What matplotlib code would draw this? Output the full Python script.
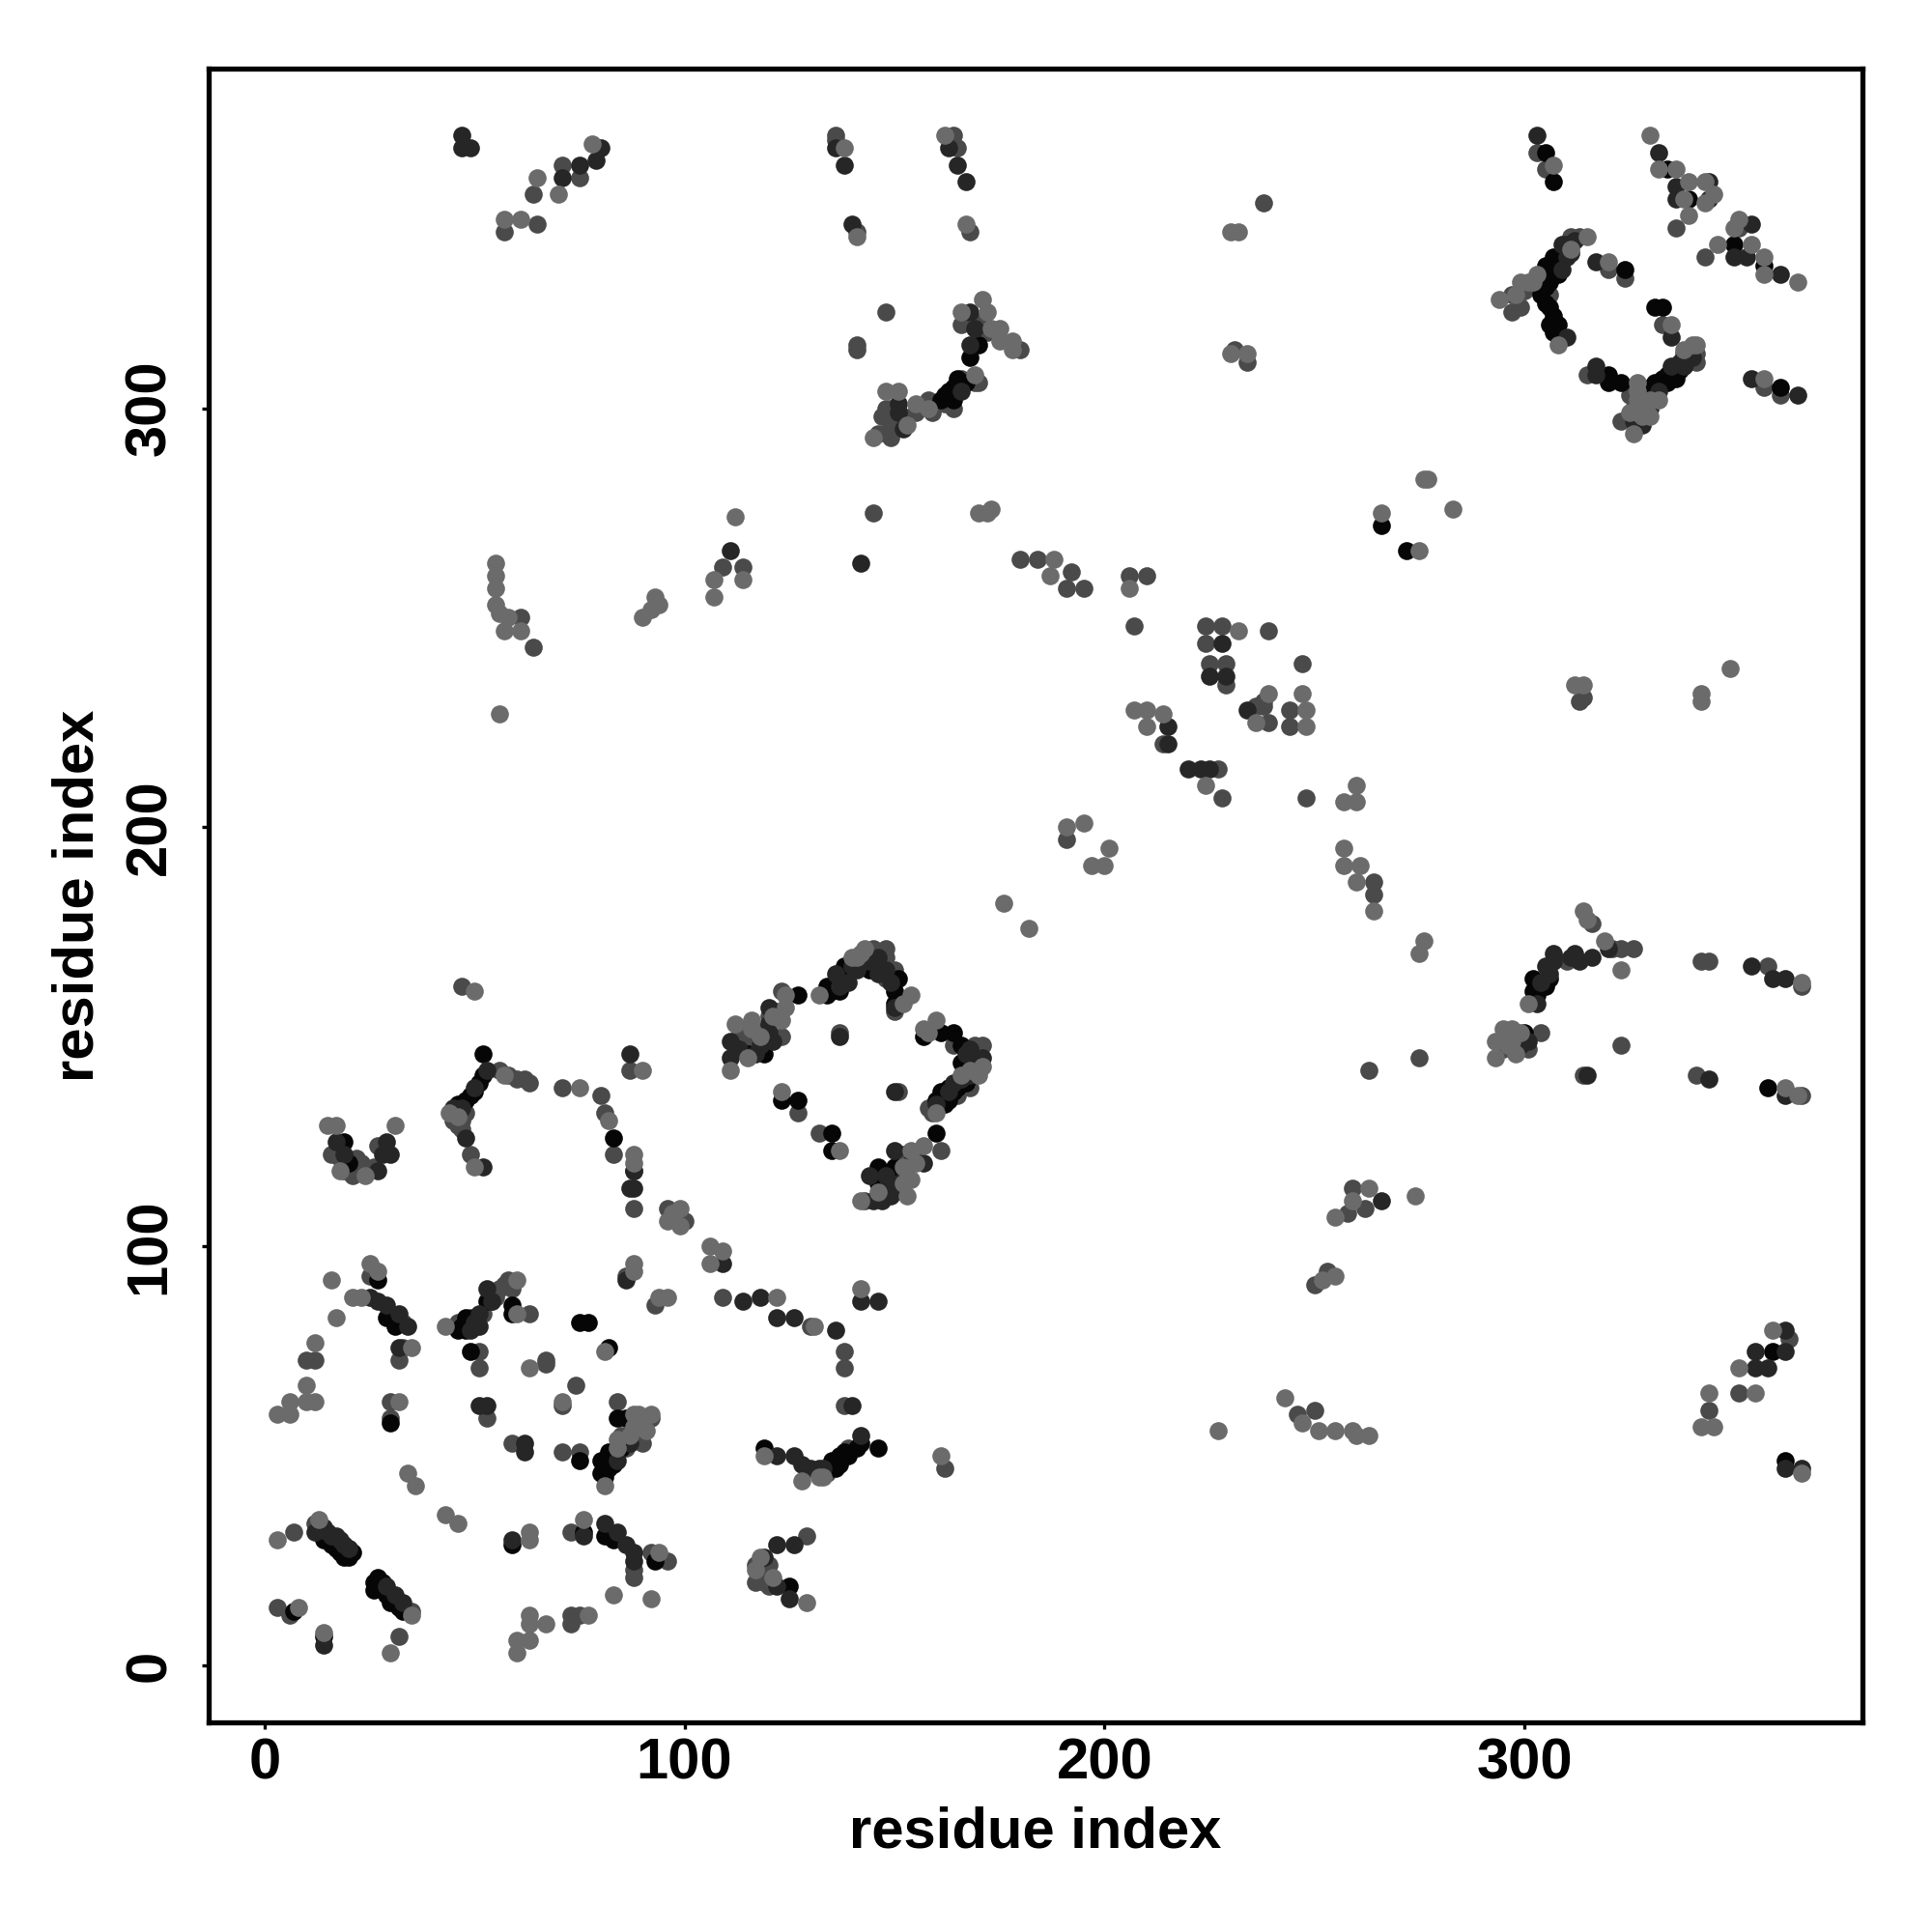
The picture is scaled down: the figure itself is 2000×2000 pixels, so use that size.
import numpy as np
import matplotlib
matplotlib.use("Agg")
import matplotlib.pyplot as plt

## ------------------
## Contact pairs, one list per grey level
## ------------------
pairs_mid = [(7,32),(12,34),(3,14),(6,12),(32,7),(73,32),(73,12),(73,10),(75,12),(88,23),(88,21),(92,27),(96,25),(35,13),
    (12,73),(10,73),(25,93),(32,73),(33,76),(52,84),(56,90),(58,92),(59,90),(63,84),(33,82),(51,75),(51,71),(67,73),(67,72),(74,67),(71,62),(53,59),(30,63),(30,59),(59,53),(71,51),(75,51),(84,63),(90,57),(92,59),(90,53),
    (88,109),(96,109),(100,106),(86,93),(93,86),(109,88),
    (22,121),(21,117),(47,130),(56,142),(62,140),(49,122),(71,138),(80,136),(81,132),(83,122),(87,142),(88,118),(47,162),
    (123,161),(123,150),(116,149),(145,171),(148,171),(148,169),(148,164),(137,151),(151,137),(164,148),(169,148),(171,148),(169,145),(127,132),(132,127),(161,123),(149,116),
    (130,81),(138,75),(138,71),(134,46),(139,52),(138,62),(129,31),(162,47),(117,20),
    (246,60),(250,61),(250,91),(253,94),(258,108),(259,114),(262,109),(263,142),(275,145),
    (344,61),(351,65),(363,78),
    (301,147),(304,151),(310,168),(316,177),(321,171),(323,171),(326,171),(323,148),(314,141),(342,168),(344,168),(358,167),(366,162),(341,141),(366,136),
    (303,361),(305,357),(336,343),(343,336),(351,343),(297,323),(297,327),(306,327),(311,341),(313,341),(320,333),(324,331),(333,320),(315,308),(323,297),(329,302),(339,311),(341,313),(341,311),(357,305),(361,303),
    (148,323),(141,315),(141,314),(169,306),(164,300),(158,302),(155,299),(148,300),(149,296),(149,293),(180,314),
    (57,342),(65,344),(64,351),(75,355),(71,358),(136,365),(136,364),(141,342),(164,365),(165,362),(168,342),(238,349),(231,314),(234,311),(145,275),
    (180,264),(184,264),(192,261),(191,257),(195,257),(206,260),(210,260),(207,248),(64,243),(61,250),(109,262),(114,262),
    (224,248),(228,248),(224,244),(239,247),(225,239),(229,239),(229,234),(247,239),(238,230),(236,229),(238,229),(239,225),(244,228),(244,224),(214,220),(227,214),(228,207),(248,207),(264,187),(264,184),(191,197),(313,230),(314,231),
    (298,148),(296,150),(295,147),(299,324),(300,328),(303,329),(325,303),(327,300),(326,300),(329,298),(331,302),(338,313),(340,314),(340,312),
    (113,150),(114,152),(113,147),(118,152),(120,155),(122,156),(140,166),(142,168),(146,170),(147,170),(150,166),(169,144),(170,146),(168,138),(165,136),
    (158,133),(159,132),(155,122),(152,122),(147,113),(143,111),(150,113),(88,56),(86,52),(88,54),(85,55),(86,54),(54,87),(55,88),(57,91),(49,83),(46,82),
    (48,132),(46,129),(45,130),(47,128),(58,141),(60,140),(63,139),(16,122),(18,121),(19,118),(23,120),(26,119),(27,124),(150,156),(151,159),
    (149,300),(147,298),(150,297),(152,298),(146,294),(159,299),(162,301),(170,306),(166,307),(166,320),(171,321),(172,318),(117,24),(118,23),(120,24),(120,19),(119,20)]

pairs_black = [(14,30),(18,27),(21,27),(19,26),(27,21),(26,18),(30,15),(33,13),(7,13),(14,7),(59,29),(76,32),(81,31),(83,30),(93,25),
    (27,92),(29,83),(31,81),(46,80),(48,80),(48,83),(53,87),(59,86),(59,84),(49,75),(75,82),(77,82),(82,76),(30,58),(75,49),(84,59),(86,59),(82,51),(80,49),(80,46),(83,48),(81,45),
    (19,125),(20,120),(49,136),(48,135),(46,134),(52,141),(52,146),(83,126),
    (127,160),(119,150),(115,146),(119,146),(134,160),(137,161),(134,162),(138,167),(144,166),(151,164),(150,161),(150,158),(157,150),(161,151),(164,151),(166,148),(166,144),(167,139),(165,138),(161,137),(160,135),(162,134),(123,135),(127,135),(135,127),(135,123),(160,127),(154,120),(150,119),(146,119),(146,115),
    (119,52),(135,49),(137,50),(146,52),(142,53),(125,19),
    (359,75),(362,49),(358,138),(300,151),(302,161),(302,164),
    (305,361),(307,354),(334,357),(339,350),(350,339),(357,334),(304,331),(304,327),(306,324),(306,320),(308,320),(308,317),(307,336),(306,332),(308,334),(324,333),(331,324),(333,324),(320,308),(320,306),(323,306),(330,305),(333,307),(334,306),(336,307),(361,305),
    (170,315),(168,312),(165,307),(163,304),(164,302),(161,302),
    (266,272),(272,266),
    (15,31),(16,29),(17,28),(20,28),(19,27),(20,26),(28,20),(27,19),(26,20),(28,18),(29,17),(31,15),(32,14),(47,134),(50,137),(51,139),(47,81),(49,82),(50,83),
    (135,161),(136,163),(137,164),(139,166),(141,168),(143,168),(145,167),(146,167),(168,143),(167,142),(163,138),(162,136),(164,137),(163,135),
    (305,334),(305,329),(306,330),(308,332),(309,335),(307,333),(309,337),(332,305),(331,306),(334,308),(335,308),(337,309),(336,309),(338,310),(329,303),(331,303),(307,322),(305,325),(307,318),
    (303,163),(303,160),(305,162),(306,164),(82,47),(81,47),(83,50),(84,51),(85,52),(136,47),(137,48),(138,51),(139,50),(141,52),(165,305),(166,305),(167,306),(164,305),(162,303)]

pairs_dark = [(12,32),(14,33),(16,31),(17,31),(19,29),(29,19),(31,17),(33,15),(14,5),(59,30),(76,31),(81,34),(84,32),(86,29),(88,27),(88,25),
    (25,88),(27,87),(29,86),(32,84),(34,81),(32,76),(51,81),(51,84),(53,90),(51,62),(53,62),(62,53),(62,51),(87,53),(84,49),
    (88,118),(87,114),(109,96),(86,92),(114,87),(118,88),(52,119),
    (17,125),(19,122),(27,118),(28,122),(30,122),(29,125),(50,138),(53,142),(48,126),(87,146),(88,114),
    (120,157),(120,153),(111,149),(111,145),(136,165),(144,168),(148,166),(150,157),(171,145),(168,141),(160,134),(157,120),(150,123),(149,112),(145,111),(147,111),(137,150),(150,137),
    (122,83),(126,83),(136,80),(142,87),(146,87),(122,50),(126,50),(130,47),(142,55),(140,62),(119,26),(122,29),(126,29),(122,19),(125,16),
    (266,111),
    (355,71),(355,75),(358,71),(362,75),(362,80),(362,47),(366,47),
    (297,148),(304,163),(306,165),(307,168),(316,169),(313,168),(320,171),(315,141),(344,140),(354,167),(359,164),(362,164),(362,136),
    (303,365),(332,361),(336,353),(336,350),(344,354),(344,350),(354,344),(350,336),(353,336),(361,332),(310,317),(310,336),(310,339),(317,335),(335,317),(317,310),(317,308),(326,297),(332,304),(335,310),(337,311),(354,307),(365,303),
    (168,323),(169,319),(168,315),(166,304),(151,301),(151,299),(152,295),
    (136,362),(138,358),(140,344),(163,362),(165,358),(167,354),(47,365),(47,362),(49,362),(71,355),(75,358),(79,359),(80,362),
    (142,263),(111,266),(228,244),(225,236),(229,236),(234,228),(215,224),(215,220),(220,214),(223,214),(225,214),
    (15,32),(18,30),(20,28),(45,133),(47,133),(54,87),(50,82),(49,80),(121,149),(120,151),(118,148),(137,162),(139,163),(140,167),(141,166),(146,165),(146,169),(149,163),
    (168,147),(167,146),(170,143),(169,142),(166,140),(164,139),(163,137),(117,146),(113,147),(144,117),(147,113),(148,117),(151,115),(148,113),
    (301,149),(299,148),(298,150),(303,158),(305,167),(307,170),(311,169),(312,170),(309,333),(312,340),(311,337),(309,339),(330,300),(329,299),(328,296),(338,310),(340,312),(128,48),(132,47),(133,47)]

pairs_light = [(13,35),(8,14),(14,8),(30,3),(34,46),(36,43),(43,36),(46,34),(63,32),(63,30),(63,12),(67,10),(63,10),(63,6),(60,6),(60,3),(76,35),(77,12),(83,17),(92,16),(94,27),(35,12),(3,30),
    (16,92),(17,83),(12,77),(3,60),(6,60),(6,63),(10,67),(10,63),(12,63),(25,96),(27,94),(21,88),(23,88),(35,76),(43,81),(60,92),(60,84),(63,71),(71,63),(32,63),(92,60),(90,59),(87,55),(84,52),(81,43),(81,75),
    (97,108),(96,106),(99,109),(99,105),(106,100),(109,99),(106,96),(88,120),(88,96),(88,94),(94,88),(96,88),
    (15,129),(17,129),(24,117),(31,129),(18,118),(44,132),(46,131),(50,119),(57,141),(50,161),(75,138),(82,130),(90,142),(88,122),
    (124,160),(124,157),(123,154),(116,154),(112,153),(111,142),(115,145),(132,160),(140,169),(142,170),(152,158),(154,160),(157,152),(160,154),(170,141),(160,132),(123,137),(137,123),(157,124),(154,123),(154,116),(153,112),(142,111),(182,176),
    (122,88),(131,81),(142,90),(119,50),(132,45),(161,50),(118,26),(117,23),(121,21),(129,15),
    (227,56),(243,64),(247,58),(251,56),(255,56),(259,56),(260,55),(263,55),(252,92),(255,93),(255,107),(263,114),(259,111),(274,112),(275,170),(276,173),
    (342,57),(345,57),(344,65),(351,71),(355,65),(359,80),(366,46),
    (293,145),(293,149),(295,152),(297,152),(301,158),(314,180),(315,178),(319,173),(323,166),(366,163),(362,138),(365,136),
    (307,358),(330,365),(332,357),(336,357),(339,354),(338,350),(339,346),(343,349),(345,351),(343,354),(346,339),(350,343),(351,345),(354,339),(357,336),(357,332),(365,330),(294,326),(298,327),(301,330),(302,330),(308,315),(311,338),(315,341),(320,335),(335,320),(327,306),(327,304),(326,294),(328,300),(328,298),(341,315),(357,307),
    (166,323),(171,326),(172,323),(173,319),(175,319),(175,316),(178,316),(178,314),(169,308),(158,300),(155,301),(151,304),(148,304),(153,296),(145,293),
    (57,345),(61,345),(65,355),(70,351),(78,363),(138,362),(141,341),(162,365),(167,344),(230,342),(232,342),(230,313),(234,313),(112,274),(170,275),(172,275),(173,276),(188,264),(187,260),(206,257),
    (56,227),(55,263),(55,260),(56,251),(57,247),(61,247),(90,250),(92,252),(93,255),(94,253),(107,255),(107,259),(114,259),(266,275),(275,266),(276,283),(277,283),(283,276),
    (232,247),(247,232),(239,232),(236,225),(248,228),(248,224),(207,228),(210,228),(210,224),(214,227),(224,210),(260,210),(257,206),(260,206),(257,195),(257,191),(261,191),(260,187),(264,180),(191,200),(195,201),(197,191),(200,191),(201,195),(176,182),(312,234),(314,234),(342,232),(342,230),(349,238),
    (297,149),(299,151),(296,148),(298,146),(299,330),(303,332),(327,302),(325,299),(328,302),(329,300),(330,298),(327,299),(330,302),(332,302),(338,314),(340,315),
    (128,44),(133,45),(116,152),(118,150),(121,155),(141,169),(143,171),(158,151),(146,113),(152,115),(152,119),(155,120),(168,142),(171,143),(166,141),
    (55,257),(55,253),(58,250),(88,57),(89,60),(91,56),(88,60),(84,54)]

tick_values = [0, 100, 200, 300]

plt.rcParams['font.family'] = ['Liberation Sans', 'DejaVu Sans']
plt.rcParams['font.weight'] = 'bold'

fig = plt.figure(figsize=(10, 10), dpi=200)
ax = fig.add_axes([216/2000, 1 - 1783/2000, (1928-216)/2000, (1783-71)/2000])

## drawn in this order so the light points sit on top, as in the reference
for pairs, colour in [(pairs_mid, '#4a4a4a'), (pairs_black, '#060606'),
                      (pairs_dark, '#262626'), (pairs_light, '#6b6b6b')]:
    pts = np.array(pairs)
    ax.scatter(pts[:, 0], pts[:, 1], s=45, c=colour, linewidths=0)

ax.set_xlim(-13.3, 380.5)
ax.set_ylim(-13.5, 381)
ax.set_xticks(tick_values)
ax.set_yticks(tick_values)
ax.tick_params(axis='x', length=2.4, width=1.2, labelsize=21.5, pad=3)
ax.tick_params(axis='y', length=2.4, width=1.2, labelsize=21.5, pad=9.5)
for lab in ax.get_yticklabels():
    lab.set_rotation(90)
    lab.set_va('center')
ax.set_xlabel("residue index", fontsize=21.5, fontweight='bold', labelpad=6)
ax.set_ylabel("residue index", fontsize=21.5, fontweight='bold', labelpad=7)
for spine in ax.spines.values():
    spine.set_linewidth(1.9)

fig.savefig("out.png", dpi=200)
